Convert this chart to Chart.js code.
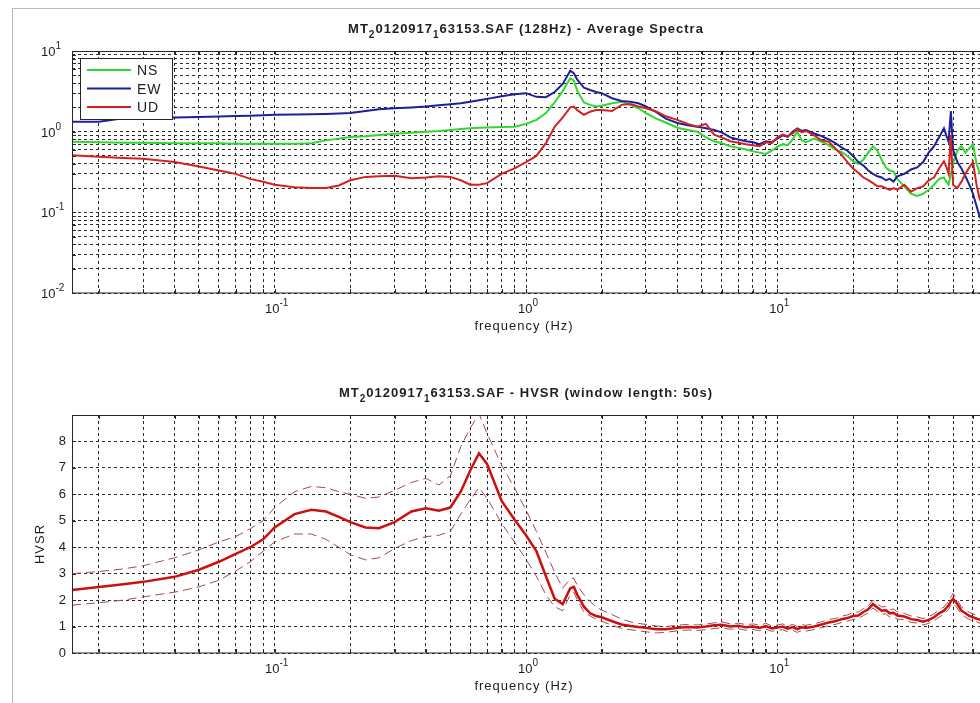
<!DOCTYPE html>
<html>
<head>
<meta charset="utf-8">
<script src="https://cdn.jsdelivr.net/npm/chart.js@4.4.1/dist/chart.umd.min.js"></script>
<style>
  html, body { margin: 0; background: #fff; }
  #frame { position: absolute; left: 12px; top: 8px; width: 970px; height: 700px;
           border-top: 1px solid #b8b8b8; border-left: 1px solid #b8b8b8; }
  canvas { position: absolute; left: 0; }
  #spectra { top: 0; }
  #hvsr { top: 350px; }
</style>
</head>
<body>
<div id="frame"></div>
<canvas id="spectra" width="980" height="350"></canvas>
<canvas id="hvsr" width="980" height="353"></canvas>
<script>
// frequency axis shared by both panels (Hz)
const freqHz = [
  0.015625, 0.02, 0.025, 0.03, 0.04, 0.05, 0.06, 0.07, 0.08, 0.09,
  0.1, 0.12, 0.14, 0.16, 0.18, 0.2, 0.23, 0.26, 0.3, 0.35,
  0.4, 0.45, 0.5, 0.55, 0.6, 0.65, 0.7, 0.8, 0.9, 1.0,
  1.1, 1.2, 1.3, 1.4, 1.5, 1.55, 1.6, 1.7, 1.8, 1.9,
  2.0, 2.2, 2.4, 2.6, 2.8, 3.0, 3.3, 3.6, 4.0, 4.4,
  4.8, 5.2, 5.6, 6.0, 6.5, 7.0, 7.5, 8.0, 8.5, 9.0,
  9.5, 10, 10.5, 11, 11.5, 12, 12.5, 13, 14, 15,
  16, 17, 18, 19, 20, 21, 22, 23, 24, 25,
  26, 27, 28, 29, 30, 32, 34, 36, 38, 40,
  42, 44, 46, 47, 48, 49, 50, 52, 54, 56,
  58, 60, 62, 64,
];

// average spectra
const nsAmp = [
  0.75, 0.74, 0.73, 0.73, 0.72, 0.72, 0.72, 0.71, 0.71, 0.71,
  0.71, 0.71, 0.72, 0.78, 0.82, 0.86, 0.88, 0.91, 0.94, 0.97,
  1.0, 1.02, 1.05, 1.08, 1.1, 1.12, 1.13, 1.14, 1.15, 1.25,
  1.4, 1.7, 2.3, 3.2, 4.6, 4.3, 3.2, 2.3, 2.15, 2.05,
  2.1, 2.25, 2.35, 2.15, 1.95, 1.7, 1.45, 1.3, 1.12, 1.05,
  1.0, 0.85, 0.76, 0.72, 0.66, 0.63, 0.6, 0.57, 0.55, 0.53,
  0.58, 0.65, 0.7, 0.68, 0.8, 1.0, 0.78, 0.74, 0.82, 0.75,
  0.68, 0.6, 0.56, 0.5, 0.43, 0.4, 0.45, 0.55, 0.66, 0.58,
  0.45, 0.36, 0.33, 0.32, 0.26, 0.21, 0.17, 0.16, 0.17, 0.19,
  0.22, 0.26, 0.27, 0.24, 0.22, 0.3, 0.4, 0.58, 0.66, 0.55,
  0.62, 0.7, 0.4, 0.3,
];
const ewAmp = [
  1.33, 1.33, 1.47, 1.48, 1.50, 1.52, 1.54, 1.56, 1.58, 1.60,
  1.62, 1.63, 1.64, 1.66, 1.68, 1.70, 1.80, 1.90, 1.95, 2.0,
  2.05, 2.12, 2.18, 2.25, 2.35, 2.45, 2.55, 2.75, 2.9, 3.0,
  2.7, 2.68, 3.1, 3.9, 5.7, 5.3, 4.4, 3.5, 3.28, 3.1,
  3.0, 2.6, 2.4, 2.35, 2.25, 2.05, 1.75, 1.45, 1.28, 1.2,
  1.15, 1.1, 1.05, 0.98, 0.85, 0.8, 0.76, 0.74, 0.7, 0.76,
  0.74, 0.82, 0.9, 0.86, 1.0, 1.1, 1.02, 1.05, 0.95, 0.88,
  0.8, 0.72, 0.64, 0.58, 0.5, 0.42, 0.38, 0.33, 0.3, 0.28,
  0.27, 0.25, 0.26, 0.24, 0.28, 0.3, 0.34, 0.36, 0.42, 0.55,
  0.66, 0.85, 1.1, 0.9, 0.75, 1.8, 0.6, 0.42, 0.35, 0.28,
  0.22, 0.17, 0.12, 0.085,
];
const udAmp = [
  0.51, 0.49, 0.47, 0.46, 0.42, 0.37, 0.33, 0.3, 0.26, 0.24,
  0.22, 0.205, 0.2, 0.2, 0.215, 0.25, 0.275, 0.28, 0.285, 0.265,
  0.27, 0.28, 0.275, 0.25, 0.22, 0.22, 0.23, 0.3, 0.35, 0.42,
  0.5, 0.72, 1.15, 1.5, 2.0, 2.04, 1.85, 1.62, 1.77, 1.85,
  1.85, 1.8, 2.15, 2.2, 2.05, 1.95, 1.78, 1.55, 1.4, 1.25,
  1.15, 1.25, 0.92, 0.85, 0.76, 0.73, 0.7, 0.68, 0.66, 0.74,
  0.72, 0.85, 0.92, 0.88, 0.95, 1.08, 0.98, 1.02, 0.9, 0.78,
  0.75, 0.62, 0.52, 0.42, 0.35, 0.31, 0.27, 0.25, 0.23, 0.21,
  0.21, 0.2, 0.19, 0.2, 0.19, 0.22, 0.18, 0.2, 0.21, 0.25,
  0.27, 0.35, 0.43, 0.37, 0.3, 0.9, 0.22, 0.2, 0.24, 0.3,
  0.36, 0.42, 0.22, 0.14,
];

// H/V ratio: mean and +/- one standard deviation
const hvMean = [
  2.38, 2.5, 2.6, 2.69, 2.88, 3.15, 3.45, 3.75, 4.0, 4.3,
  4.75, 5.25, 5.42, 5.35, 5.15, 4.95, 4.75, 4.72, 4.95, 5.35,
  5.47, 5.38, 5.5, 6.1, 6.9, 7.55, 7.15, 5.75, 5.05, 4.45,
  3.85, 2.9, 2.05, 1.85, 2.45, 2.5, 2.2, 1.75, 1.5, 1.4,
  1.35, 1.2, 1.08, 1.02, 0.98, 0.95, 0.9, 0.9, 0.95, 0.98,
  0.96, 1.0, 1.05, 1.07, 1.0, 1.03, 0.97, 1.0, 0.95, 1.02,
  0.93, 0.96, 1.0, 0.92, 0.98, 0.9, 0.97, 0.95, 1.0, 1.08,
  1.15, 1.2, 1.28, 1.32, 1.4, 1.42, 1.55, 1.65, 1.85, 1.72,
  1.6, 1.62, 1.5, 1.52, 1.42, 1.38, 1.28, 1.25, 1.18, 1.25,
  1.35, 1.5, 1.6, 1.7, 1.8, 1.95, 2.05, 1.85, 1.6, 1.5,
  1.4, 1.35, 1.3, 1.25,
];
const hvUpper = [
  3.0, 3.08, 3.18, 3.3, 3.6, 3.9, 4.2, 4.4, 4.7, 5.0,
  5.5, 6.1, 6.3, 6.25, 6.1, 6.0, 5.85, 5.9, 6.15, 6.45,
  6.6, 6.35, 6.7, 7.8, 8.5, 9.05, 8.3, 7.1, 6.25, 5.4,
  4.6, 3.8, 3.05, 2.45, 2.8, 2.83, 2.55, 2.2, 1.95, 1.75,
  1.62, 1.45, 1.28, 1.18, 1.12, 1.08, 1.02, 1.0, 1.05, 1.08,
  1.06, 1.1, 1.14, 1.18, 1.1, 1.13, 1.07, 1.1, 1.05, 1.12,
  1.03, 1.06, 1.1, 1.02, 1.08, 1.0, 1.07, 1.05, 1.1, 1.18,
  1.27, 1.3, 1.4, 1.44, 1.53, 1.55, 1.68, 1.78, 2.0, 1.86,
  1.74, 1.76, 1.64, 1.66, 1.56, 1.5, 1.4, 1.37, 1.3, 1.38,
  1.48, 1.64, 1.74, 1.84, 1.95, 2.12, 2.25, 2.0, 1.74, 1.64,
  1.54, 1.48, 1.42, 1.37,
];
const hvLower = [
  1.81, 1.9, 2.0, 2.12, 2.3, 2.5, 2.75, 3.1, 3.45, 3.85,
  4.2, 4.5, 4.5, 4.3, 4.0, 3.72, 3.52, 3.6, 3.95, 4.25,
  4.4, 4.45, 4.6, 5.25, 5.8, 6.25, 5.85, 4.9, 4.2, 3.55,
  2.9, 2.2, 1.75, 1.6, 2.2, 2.3, 2.0, 1.55, 1.4, 1.28,
  1.2, 1.05, 0.93, 0.88, 0.84, 0.8, 0.76, 0.78, 0.84, 0.87,
  0.85, 0.88, 0.93, 0.95, 0.9, 0.92, 0.86, 0.89, 0.84, 0.9,
  0.82, 0.86, 0.88, 0.8, 0.86, 0.78, 0.85, 0.83, 0.88, 0.96,
  1.03, 1.08, 1.15, 1.2, 1.27, 1.3, 1.42, 1.52, 1.7, 1.58,
  1.46, 1.48, 1.36, 1.38, 1.28, 1.26, 1.16, 1.13, 1.06, 1.12,
  1.22, 1.36, 1.46, 1.56, 1.65, 1.8, 1.88, 1.7, 1.46, 1.36,
  1.27, 1.22, 1.18, 1.12,
];

// axes, ticks and labels
const FMIN = 0.015625, FMAX = 64;
const gridDecades = [0.01, 0.1, 1, 10];
const xLabelValues = [0.1, 1, 10];
const xLabelExps = ['-1', '0', '1'];
const specLabelValues = [10, 1, 0.1, 0.01];
const specLabelExps = ['1', '0', '-1', '-2'];
const hvGridValues = [0, 1, 2, 3, 4, 5, 6, 7, 8, 9];
const hvLabelValues = [0, 1, 2, 3, 4, 5, 6, 7, 8];

const FONT = '"Liberation Sans", Arial, sans-serif';
const INK = '#1e1e1e';
const NS_COLOR = '#2fd72f';
const EW_COLOR = '#1f1f99';
const UD_COLOR = '#d42222';

function gridValues(lo, hi) {
  const out = [];
  gridDecades.forEach((d) => {
    for (let m = 1; m <= 9; m++) {
      const v = +(m * d).toPrecision(3);
      if (v >= lo && v <= hi) out.push(v);
    }
  });
  return out;
}

const xy = (ys) => freqHz.map((f, i) => ({ x: f, y: ys[i] }));

// text with MATLAB-style sub/superscripts: parts = [[text, 'n'|'sub'|'sup'], ...]
function richText(ctx, parts, x, y, align, size, weight, spacing) {
  ctx.letterSpacing = spacing || '0px';
  const fonts = parts.map(([, k]) => `${weight} ${k === 'n' ? size : Math.round(size * 0.77)}px ${FONT}`);
  const widths = parts.map(([t], i) => { ctx.font = fonts[i]; return ctx.measureText(t).width; });
  const total = widths.reduce((s, w) => s + w, 0);
  let cx = align === 'center' ? x - total / 2 : align === 'right' ? x - total : x;
  ctx.textAlign = 'left';
  ctx.textBaseline = 'alphabetic';
  parts.forEach(([t, k], i) => {
    ctx.font = fonts[i];
    const dy = k === 'sub' ? size * 0.4 : k === 'sup' ? -size * 0.55 : 0;
    ctx.fillText(t, cx, y + dy);
    cx += widths[i];
  });
  ctx.letterSpacing = '0px';
}

const matlabAxes = {
  id: 'matlabAxes',
  afterDraw(chart, args, opts) {
    const { ctx, chartArea: a, scales } = chart;
    ctx.save();
    ctx.setLineDash([]);
    ctx.strokeStyle = '#262626';
    ctx.lineWidth = 1;

    // inward tick marks
    ctx.beginPath();
    scales.x.ticks.forEach((t) => {
      const px = Math.round(scales.x.getPixelForValue(t.value)) + 0.5;
      ctx.moveTo(px, a.bottom); ctx.lineTo(px, a.bottom - 4);
      ctx.moveTo(px, a.top); ctx.lineTo(px, a.top + 4);
    });
    scales.y.ticks.forEach((t) => {
      const py = Math.round(scales.y.getPixelForValue(t.value)) + 0.5;
      ctx.moveTo(a.left, py); ctx.lineTo(a.left + 4, py);
    });
    ctx.stroke();

    // box
    ctx.strokeRect(a.left + 0.5, a.top + 0.5, a.right - a.left, a.bottom - a.top - 0.5);

    ctx.fillStyle = INK;
    xLabelValues.forEach((v, i) => {
      richText(ctx, [['10', 'n'], [xLabelExps[i], 'sup']], scales.x.getPixelForValue(v) + 2, a.bottom + 20, 'center', 13, 'normal');
    });
    if (opts.logY) {
      specLabelValues.forEach((v, i) => {
        richText(ctx, [['10', 'n'], [specLabelExps[i], 'sup']], 41, scales.y.getPixelForValue(v) + 5, 'left', 13, 'normal');
      });
    } else {
      ctx.font = `13px ${FONT}`;
      ctx.textAlign = 'right';
      ctx.textBaseline = 'middle';
      hvLabelValues.forEach((v) => ctx.fillText(String(v), a.left - 6, scales.y.getPixelForValue(v)));
    }

    richText(ctx, [['frequency (Hz)', 'n']], (a.left + a.right) / 2 - 2, a.bottom + 37, 'center', 13, 'normal', '1px');

    if (opts.yTitle) {
      ctx.save();
      ctx.translate(44, (a.top + a.bottom) / 2 + 10);
      ctx.rotate(-Math.PI / 2);
      richText(ctx, [[opts.yTitle, 'n']], 0, 0, 'center', 13, 'normal', '1px');
      ctx.restore();
    }

    richText(ctx, opts.title, (a.left + a.right) / 2, a.top - 18, 'center', 13, 'bold', '1px');

    if (opts.legend) {
      const lx = 80, ly = 58, lw = 92, lh = 61;
      ctx.fillStyle = '#fff';
      ctx.fillRect(lx, ly, lw, lh);
      ctx.strokeStyle = '#262626';
      ctx.strokeRect(lx + 0.5, ly + 0.5, lw, lh);
      chart.data.datasets.forEach((ds, i) => {
        const y = ly + 12 + i * 18.5;
        ctx.strokeStyle = ds.borderColor;
        ctx.lineWidth = 2;
        ctx.beginPath(); ctx.moveTo(87, y); ctx.lineTo(131, y); ctx.stroke();
        ctx.fillStyle = INK;
        richText(ctx, [[ds.label, 'n']], 137, y + 5, 'left', 14, 'normal', '1px');
      });
    }
    ctx.restore();
  },
};

const gridStyle = { color: '#2a2a2a', lineWidth: 1, drawTicks: false };
const borderStyle = { display: false, dash: [3, 3] };

function xScale() {
  return {
    type: 'logarithmic', min: FMIN, max: FMAX,
    afterBuildTicks: (axis) => { axis.ticks = gridValues(FMIN, FMAX).map((v) => ({ value: v })); },
    ticks: { display: false }, grid: gridStyle, border: borderStyle,
  };
}

new Chart(document.getElementById('spectra'), {
  type: 'line',
  data: {
    datasets: [
      { label: 'NS', data: xy(nsAmp), borderColor: NS_COLOR, borderWidth: 2, order: 2 },
      { label: 'EW', data: xy(ewAmp), borderColor: EW_COLOR, borderWidth: 2, order: 1 },
      { label: 'UD', data: xy(udAmp), borderColor: UD_COLOR, borderWidth: 2, order: 0 },
    ],
  },
  options: {
    responsive: false, animation: false, devicePixelRatio: 1,
    layout: { padding: { left: 72, top: 51, right: 0, bottom: 57 } },
    elements: { point: { radius: 0 }, line: { tension: 0 } },
    datasets: { line: { clip: 0 } },
    scales: {
      x: xScale(),
      y: {
        type: 'logarithmic', min: 0.01, max: 10,
        afterBuildTicks: (axis) => { axis.ticks = gridValues(0.01, 10).map((v) => ({ value: v })); },
        ticks: { display: false }, grid: gridStyle, border: borderStyle,
      },
    },
    plugins: {
      legend: { display: false }, tooltip: { enabled: false },
      matlabAxes: {
        logY: true, legend: true,
        title: [['MT', 'n'], ['2', 'sub'], ['0120917', 'n'], ['1', 'sub'], ['63153.SAF (128Hz) - Average Spectra', 'n']],
      },
    },
  },
  plugins: [matlabAxes],
});

new Chart(document.getElementById('hvsr'), {
  type: 'line',
  data: {
    datasets: [
      { label: 'mean', data: xy(hvMean), borderColor: '#cc1010', borderWidth: 2.5 },
      { label: '+std', data: xy(hvUpper), borderColor: '#a24a4e', borderWidth: 1, borderDash: [9, 5] },
      { label: '-std', data: xy(hvLower), borderColor: '#a24a4e', borderWidth: 1, borderDash: [9, 5] },
    ],
  },
  options: {
    responsive: false, animation: false, devicePixelRatio: 1,
    layout: { padding: { left: 72, top: 65, right: 0, bottom: 50 } },
    elements: { point: { radius: 0 }, line: { tension: 0 } },
    datasets: { line: { clip: 0 } },
    scales: {
      x: xScale(),
      y: {
        type: 'linear', min: 0, max: 9,
        afterBuildTicks: (axis) => { axis.ticks = hvGridValues.map((v) => ({ value: v })); },
        ticks: { display: false }, grid: gridStyle, border: borderStyle,
      },
    },
    plugins: {
      legend: { display: false }, tooltip: { enabled: false },
      matlabAxes: {
        logY: false, yTitle: 'HVSR',
        title: [['MT', 'n'], ['2', 'sub'], ['0120917', 'n'], ['1', 'sub'], ['63153.SAF - HVSR (window length: 50s)', 'n']],
      },
    },
  },
  plugins: [matlabAxes],
});
</script>
</body>
</html>
